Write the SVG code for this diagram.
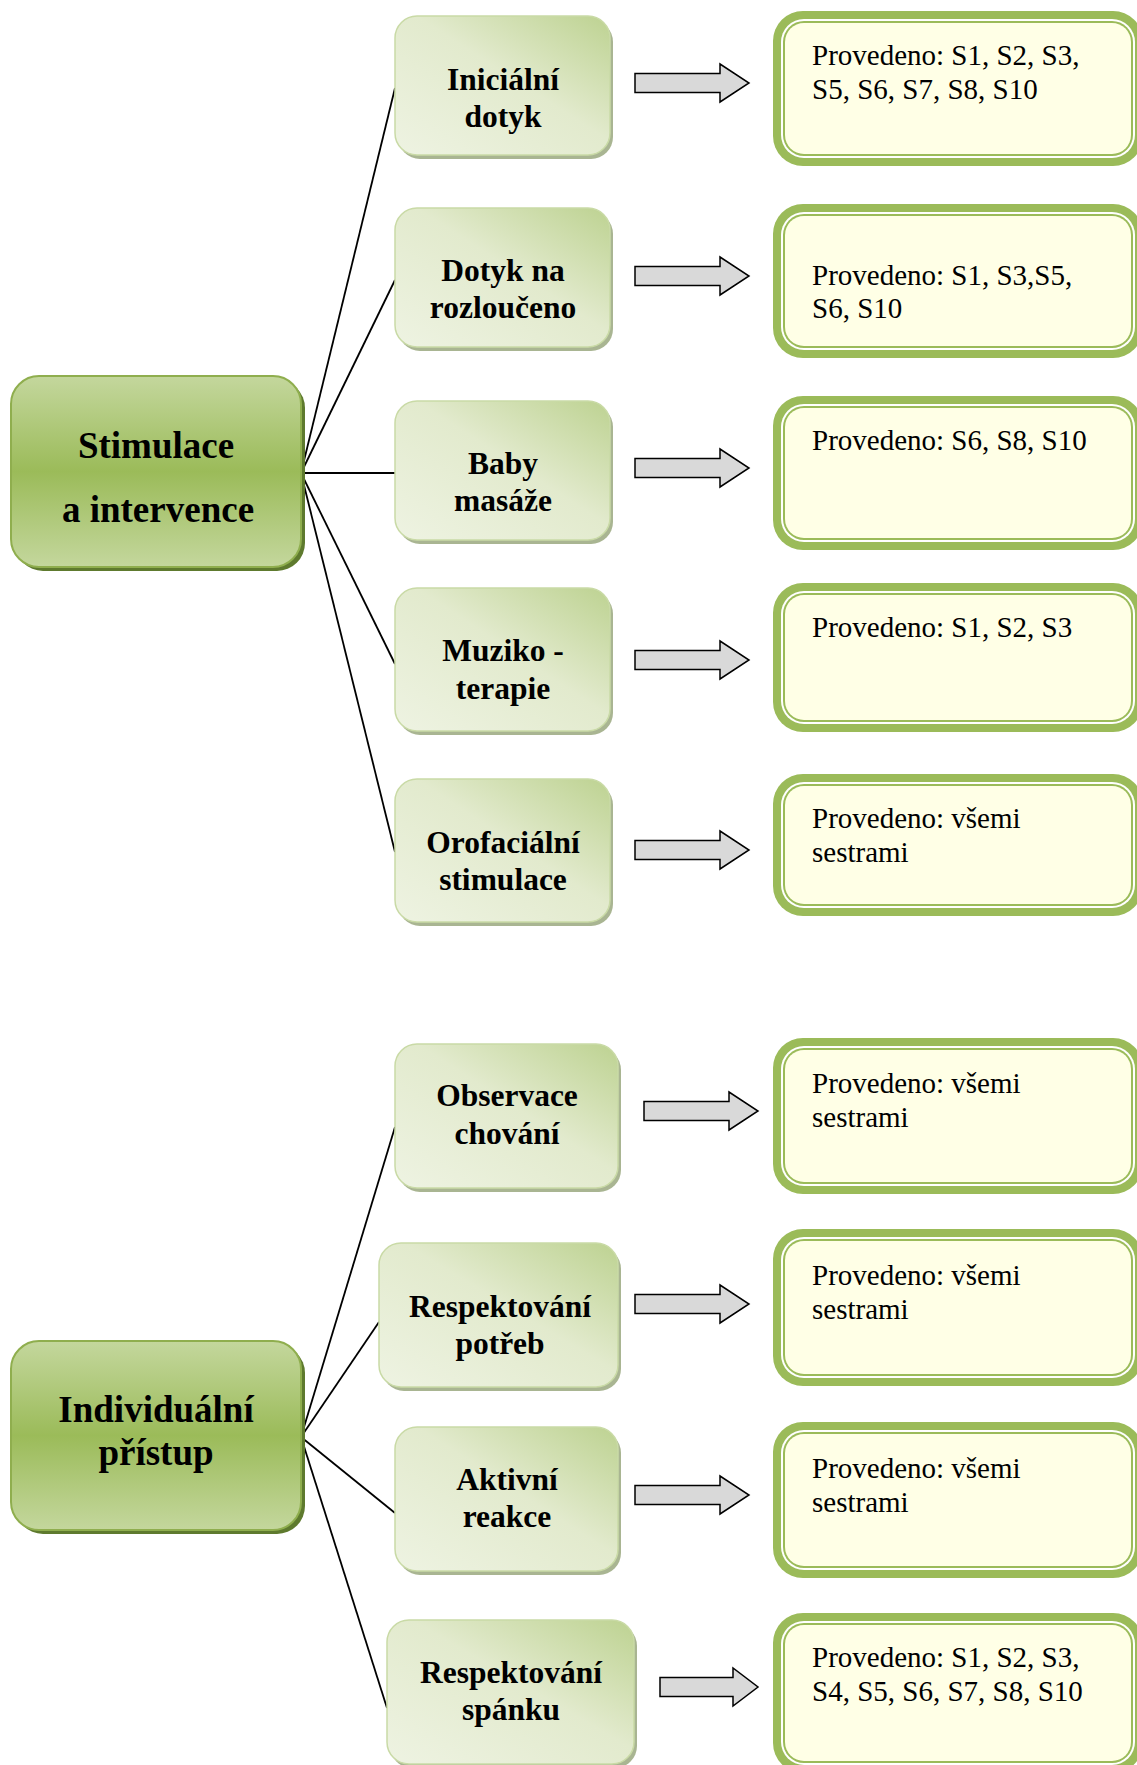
<svg xmlns="http://www.w3.org/2000/svg" width="1137" height="1765" viewBox="0 0 1137 1765">
  <style>
    .root-text { font-family: "Liberation Serif", "Times New Roman", serif; font-weight: bold; font-size: 37px; fill: #000; text-anchor: middle; }
    .mid-text { font-family: "Liberation Serif", "Times New Roman", serif; font-weight: bold; font-size: 31.5px; fill: #000; text-anchor: middle; }
    .res-text { font-family: "Liberation Serif", "Times New Roman", serif; font-size: 29px; fill: #000; }
    .root-box { fill: url(#rootGrad); stroke: #8FAE4E; stroke-width: 2; }
    .root-shadow { fill: #5E7A2E; }
    .mid-box { fill: url(#midGrad); stroke: #C9DAA6; stroke-width: 1.5; }
    .mid-shadow { fill: #A9B592; }
    .res-outer { fill: #9BBB59; }
    .res-gap { fill: #FFFFFF; }
    .res-line { fill: #9BBB59; }
    .res-fill { fill: #FFFFE6; }
    .arrow { fill: #D9D9D9; stroke: #000; stroke-width: 1.5; stroke-linejoin: miter; }
    .link { stroke: #000; stroke-width: 1.8; fill: none; }
  </style>
  <defs>
    <linearGradient id="rootGrad" x1="0" y1="0" x2="0" y2="1">
      <stop offset="0" stop-color="#C4D79D"/>
      <stop offset="0.5" stop-color="#9BBB59"/>
      <stop offset="1" stop-color="#C4D79D"/>
    </linearGradient>
    <linearGradient id="midGrad" x1="1" y1="0" x2="0" y2="1">
      <stop offset="0" stop-color="#BDD291"/>
      <stop offset="0.45" stop-color="#E2EACD"/>
      <stop offset="1" stop-color="#EEF3E2"/>
    </linearGradient>
    <!-- block arrow, drawn pointing right, origin at shaft start / centre line -->
    <path id="blockArrow" d="M0,-9.5 H85 V-19 L114,0 L85,19 V9.5 H0 Z"/>
  </defs>

  <!-- connectors -->
  <g id="connectors">
    <line class="link" x1="301" y1="473" x2="395" y2="88"/>
    <line class="link" x1="301" y1="473" x2="395" y2="280"/>
    <line class="link" x1="301" y1="473" x2="395" y2="473"/>
    <line class="link" x1="301" y1="473" x2="395" y2="664"/>
    <line class="link" x1="301" y1="473" x2="395" y2="852"/>
    <line class="link" x1="301" y1="1437" x2="395" y2="1127"/>
    <line class="link" x1="301" y1="1437" x2="379" y2="1322"/>
    <line class="link" x1="301" y1="1437" x2="395" y2="1513"/>
    <line class="link" x1="301" y1="1437" x2="387" y2="1708"/>
  </g>

  <!-- block arrows -->
  <g id="arrows">
    <use href="#blockArrow" class="arrow" transform="translate(635,83)"/>
    <use href="#blockArrow" class="arrow" transform="translate(635,276)"/>
    <use href="#blockArrow" class="arrow" transform="translate(635,468)"/>
    <use href="#blockArrow" class="arrow" transform="translate(635,660)"/>
    <use href="#blockArrow" class="arrow" transform="translate(635,850)"/>
    <use href="#blockArrow" class="arrow" transform="translate(644,1111)"/>
    <use href="#blockArrow" class="arrow" transform="translate(635,1304)"/>
    <use href="#blockArrow" class="arrow" transform="translate(635,1495)"/>
    <path class="arrow" d="M660,1677.5 H733 V1668 L758,1687 L733,1706 V1696.5 H660 Z"/>
  </g>

  <!-- root: Stimulace a intervence -->
  <g id="root-stimulace">
    <rect class="root-shadow" x="15" y="380" width="290" height="191" rx="28"/>
    <rect class="root-box" x="11" y="376" width="290" height="191" rx="28"/>
    <text class="root-text" x="156" y="458">Stimulace</text>
    <text class="root-text" x="158" y="522">a intervence</text>
  </g>

  <!-- root: Individuální přístup -->
  <g id="root-pristup">
    <rect class="root-shadow" x="15" y="1345" width="290" height="189" rx="28"/>
    <rect class="root-box" x="11" y="1341" width="290" height="189" rx="28"/>
    <text class="root-text" x="156" y="1422">Individuální</text>
    <text class="root-text" x="156" y="1465">přístup</text>
  </g>

  <!-- activity nodes -->
  <g id="node-inicialni">
    <rect class="mid-shadow" x="398" y="20" width="215" height="139" rx="22"/>
    <rect class="mid-box" x="395" y="16" width="215" height="139" rx="22"/>
    <text class="mid-text" x="503" y="90">Iniciální</text>
    <text class="mid-text" x="503" y="127">dotyk</text>
  </g>
  <g id="node-rozlouceno">
    <rect class="mid-shadow" x="398" y="212" width="215" height="139" rx="22"/>
    <rect class="mid-box" x="395" y="208" width="215" height="139" rx="22"/>
    <text class="mid-text" x="503" y="281">Dotyk na</text>
    <text class="mid-text" x="503" y="318">rozloučeno</text>
  </g>
  <g id="node-baby">
    <rect class="mid-shadow" x="398" y="405" width="215" height="139" rx="22"/>
    <rect class="mid-box" x="395" y="401" width="215" height="139" rx="22"/>
    <text class="mid-text" x="503" y="474">Baby</text>
    <text class="mid-text" x="503" y="511">masáže</text>
  </g>
  <g id="node-muziko">
    <rect class="mid-shadow" x="398" y="592" width="215" height="143" rx="22"/>
    <rect class="mid-box" x="395" y="588" width="215" height="143" rx="22"/>
    <text class="mid-text" x="503" y="661">Muziko -</text>
    <text class="mid-text" x="503" y="699">terapie</text>
  </g>
  <g id="node-orofacialni">
    <rect class="mid-shadow" x="398" y="783" width="215" height="143" rx="22"/>
    <rect class="mid-box" x="395" y="779" width="215" height="143" rx="22"/>
    <text class="mid-text" x="503" y="853">Orofaciální</text>
    <text class="mid-text" x="503" y="890">stimulace</text>
  </g>
  <g id="node-observace">
    <rect class="mid-shadow" x="398" y="1048" width="223" height="144" rx="22"/>
    <rect class="mid-box" x="395" y="1044" width="223" height="144" rx="22"/>
    <text class="mid-text" x="507" y="1106">Observace</text>
    <text class="mid-text" x="507" y="1144">chování</text>
  </g>
  <g id="node-potreb">
    <rect class="mid-shadow" x="382" y="1247" width="239" height="144" rx="22"/>
    <rect class="mid-box" x="379" y="1243" width="239" height="144" rx="22"/>
    <text class="mid-text" x="500" y="1317">Respektování</text>
    <text class="mid-text" x="500" y="1354">potřeb</text>
  </g>
  <g id="node-aktivni">
    <rect class="mid-shadow" x="398" y="1431" width="223" height="144" rx="22"/>
    <rect class="mid-box" x="395" y="1427" width="223" height="144" rx="22"/>
    <text class="mid-text" x="507" y="1490">Aktivní</text>
    <text class="mid-text" x="507" y="1527">reakce</text>
  </g>
  <g id="node-spanku">
    <rect class="mid-shadow" x="390" y="1624" width="247" height="144" rx="22"/>
    <rect class="mid-box" x="387" y="1620" width="247" height="144" rx="22"/>
    <text class="mid-text" x="511" y="1683">Respektování</text>
    <text class="mid-text" x="511" y="1720">spánku</text>
  </g>

  <!-- result boxes -->
  <g id="result-1">
    <rect class="res-outer" x="773" y="11" width="370" height="155" rx="30"/>
    <rect class="res-gap" x="781" y="19" width="354" height="139" rx="23"/>
    <rect class="res-line" x="783" y="21" width="350" height="135" rx="21"/>
    <rect class="res-fill" x="785" y="23" width="346" height="131" rx="19"/>
    <text class="res-text" x="812" y="65">Provedeno: S1, S2, S3,</text>
    <text class="res-text" x="812" y="99">S5, S6, S7, S8, S10</text>
  </g>
  <g id="result-2">
    <rect class="res-outer" x="773" y="204" width="370" height="154" rx="30"/>
    <rect class="res-gap" x="781" y="212" width="354" height="138" rx="23"/>
    <rect class="res-line" x="783" y="214" width="350" height="134" rx="21"/>
    <rect class="res-fill" x="785" y="216" width="346" height="130" rx="19"/>
    <text class="res-text" x="812" y="285">Provedeno: S1, S3,S5,</text>
    <text class="res-text" x="812" y="318">S6, S10</text>
  </g>
  <g id="result-3">
    <rect class="res-outer" x="773" y="396" width="370" height="154" rx="30"/>
    <rect class="res-gap" x="781" y="404" width="354" height="138" rx="23"/>
    <rect class="res-line" x="783" y="406" width="350" height="134" rx="21"/>
    <rect class="res-fill" x="785" y="408" width="346" height="130" rx="19"/>
    <text class="res-text" x="812" y="450">Provedeno: S6, S8, S10</text>
  </g>
  <g id="result-4">
    <rect class="res-outer" x="773" y="583" width="370" height="149" rx="30"/>
    <rect class="res-gap" x="781" y="591" width="354" height="133" rx="23"/>
    <rect class="res-line" x="783" y="593" width="350" height="129" rx="21"/>
    <rect class="res-fill" x="785" y="595" width="346" height="125" rx="19"/>
    <text class="res-text" x="812" y="637">Provedeno: S1, S2, S3</text>
  </g>
  <g id="result-5">
    <rect class="res-outer" x="773" y="774" width="370" height="142" rx="30"/>
    <rect class="res-gap" x="781" y="782" width="354" height="126" rx="23"/>
    <rect class="res-line" x="783" y="784" width="350" height="122" rx="21"/>
    <rect class="res-fill" x="785" y="786" width="346" height="118" rx="19"/>
    <text class="res-text" x="812" y="828">Provedeno: všemi</text>
    <text class="res-text" x="812" y="862">sestrami</text>
  </g>
  <g id="result-6">
    <rect class="res-outer" x="773" y="1038" width="370" height="156" rx="30"/>
    <rect class="res-gap" x="781" y="1046" width="354" height="140" rx="23"/>
    <rect class="res-line" x="783" y="1048" width="350" height="136" rx="21"/>
    <rect class="res-fill" x="785" y="1050" width="346" height="132" rx="19"/>
    <text class="res-text" x="812" y="1093">Provedeno: všemi</text>
    <text class="res-text" x="812" y="1127">sestrami</text>
  </g>
  <g id="result-7">
    <rect class="res-outer" x="773" y="1229" width="370" height="157" rx="30"/>
    <rect class="res-gap" x="781" y="1237" width="354" height="141" rx="23"/>
    <rect class="res-line" x="783" y="1239" width="350" height="137" rx="21"/>
    <rect class="res-fill" x="785" y="1241" width="346" height="133" rx="19"/>
    <text class="res-text" x="812" y="1285">Provedeno: všemi</text>
    <text class="res-text" x="812" y="1319">sestrami</text>
  </g>
  <g id="result-8">
    <rect class="res-outer" x="773" y="1422" width="370" height="156" rx="30"/>
    <rect class="res-gap" x="781" y="1430" width="354" height="140" rx="23"/>
    <rect class="res-line" x="783" y="1432" width="350" height="136" rx="21"/>
    <rect class="res-fill" x="785" y="1434" width="346" height="132" rx="19"/>
    <text class="res-text" x="812" y="1478">Provedeno: všemi</text>
    <text class="res-text" x="812" y="1512">sestrami</text>
  </g>
  <g id="result-9">
    <rect class="res-outer" x="773" y="1613" width="370" height="160" rx="30"/>
    <rect class="res-gap" x="781" y="1621" width="354" height="144" rx="23"/>
    <rect class="res-line" x="783" y="1623" width="350" height="140" rx="21"/>
    <rect class="res-fill" x="785" y="1625" width="346" height="136" rx="19"/>
    <text class="res-text" x="812" y="1667">Provedeno: S1, S2, S3,</text>
    <text class="res-text" x="812" y="1701">S4, S5, S6, S7, S8, S10</text>
  </g>
</svg>
